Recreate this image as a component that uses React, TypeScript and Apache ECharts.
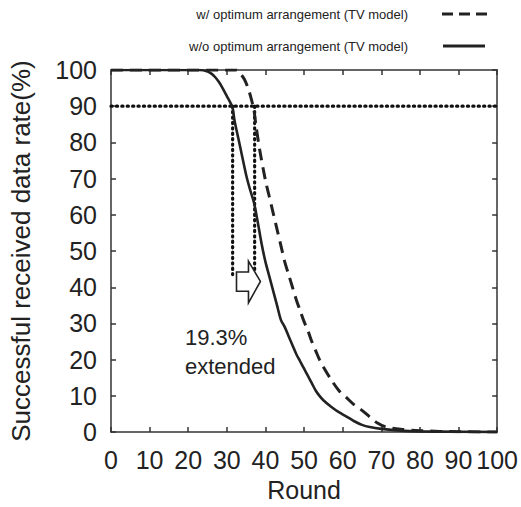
import React, { useEffect, useRef } from "react";
import * as echarts from "echarts";

// Successful received data rate (%) vs. round
const roundsWithout = [0, 23, 25, 26, 27, 28, 29, 30, 31, 31.5, 32, 33, 34, 35, 36, 37, 38, 39, 40, 41, 42, 43, 44, 45, 46, 47, 48, 49, 50, 51, 52, 53, 54, 55, 57, 59, 61, 63, 65, 67, 70, 75, 80, 90, 100];
const rateWithout = [100, 100, 99.6, 99, 98, 96.6, 94.8, 92.8, 90.8, 89.5, 86, 81, 76, 71, 67, 63.5, 58, 52, 47, 43, 39, 35, 31, 29, 26.5, 24, 21.5, 19.5, 17.5, 15.5, 13.5, 11.5, 10, 8.8, 7, 5.5, 4.3, 3, 2, 1.4, 0.9, 0.4, 0.2, 0.1, 0];

const roundsWith = [0, 32.5, 33.5, 34.5, 35.5, 36.2, 37, 37.5, 38.5, 40, 41, 42, 43, 44, 45, 46, 47, 48, 49, 50, 51, 52, 53, 54, 55, 57, 59, 61, 63, 65, 67, 69, 71, 75, 80, 85, 90, 100];
const rateWith = [100, 100, 99, 97.5, 95, 92.5, 89, 85, 78, 69.5, 65, 60.5, 56, 51.5, 47, 43.5, 40, 36.5, 33.5, 30.5, 28, 25, 22.5, 20, 18, 14.5, 11.5, 9.5, 7.5, 6, 4.2, 2.5, 1.5, 0.8, 0.4, 0.2, 0.1, 0];

const seriesNames = ["w/ optimum arrangement (TV model)", "w/o optimum arrangement (TV model)"];

// annotation values
const thresholdRate = 90;
const crossWithout = 31.5;
const crossWith = 37.2;
const dropBottomWithout = 43.5;
const dropBottomWith = 43;
// arrow outline (round, rate)
const arrowRounds = [32.5, 35.6, 35.6, 38.7, 35.6, 35.6, 32.5];
const arrowRates = [44.2, 44.2, 47.2, 41.6, 35.7, 38.9, 38.9];
const annotationLines = ["19.3%", "extended"];

const xTickMin = 0, xTickMax = 100, xTickStep = 10;
const yTickMin = 0, yTickMax = 100, yTickStep = 10;

const FONT = '"Liberation Sans", Arial, Helvetica, sans-serif';
const INK = "#222";
const AXIS = "#333";

export default function App() {
  const ref = useRef<HTMLDivElement>(null);
  useEffect(() => {
    if (!ref.current) return;
    const chart = echarts.init(ref.current, null, { renderer: "svg" });
    const axisLine = { show: true, onZero: false, lineStyle: { color: AXIS, width: 1.5 } };
    const axisTick = { show: true, inside: true, length: 5, lineStyle: { color: AXIS, width: 1.5 } };
    const dotted = { color: "#111", width: 3.2, type: [1.2, 4.2] as any, cap: "round" as any };
    const arrowPts = arrowRounds.map((x, i) => [x, arrowRates[i]]);
    chart.setOption({
      animation: false,
      backgroundColor: "#fff",
      textStyle: { fontFamily: FONT },
      grid: { left: 111, right: 23, top: 70, bottom: 64, containLabel: false },
      xAxis: [
        {
          type: "value", min: xTickMin, max: xTickMax, interval: xTickStep, position: "bottom",
          axisLine, axisTick, splitLine: { show: false },
          axisLabel: { fontSize: 25, color: INK, margin: 15, fontFamily: FONT },
          name: "Round", nameLocation: "middle", nameGap: 40,
          nameTextStyle: { fontSize: 25, color: INK, fontFamily: FONT },
        },
        {
          type: "value", min: xTickMin, max: xTickMax, interval: xTickStep, position: "top",
          axisLine, axisTick, splitLine: { show: false }, axisLabel: { show: false },
        },
      ],
      yAxis: [
        {
          type: "value", min: yTickMin, max: yTickMax, interval: yTickStep, position: "left",
          axisLine, axisTick, splitLine: { show: false },
          axisLabel: { fontSize: 25, color: INK, margin: 14, fontFamily: FONT },
          name: "Successful received data rate(%)", nameLocation: "middle", nameGap: 77,
          nameTextStyle: { fontSize: 26, color: INK, fontFamily: FONT },
        },
        {
          type: "value", min: yTickMin, max: yTickMax, interval: yTickStep, position: "right",
          axisLine, axisTick, splitLine: { show: false }, axisLabel: { show: false },
        },
      ],
      series: [
        {
          name: "threshold", type: "line", symbol: "none", silent: true, z: 1,
          data: [[xTickMin, thresholdRate], [xTickMax, thresholdRate]],
          lineStyle: dotted,
        },
        {
          name: "drop-wo", type: "line", symbol: "none", silent: true, z: 1,
          data: [[crossWithout, thresholdRate], [crossWithout, dropBottomWithout]],
          lineStyle: dotted,
        },
        {
          name: "drop-w", type: "line", symbol: "none", silent: true, z: 1,
          data: [[crossWith, thresholdRate], [crossWith, dropBottomWith]],
          lineStyle: dotted,
        },
        {
          name: seriesNames[1], type: "line", symbol: "none", smooth: 0.3, z: 3,
          data: roundsWithout.map((x, i) => [x, rateWithout[i]]),
          lineStyle: { color: INK, width: 2.6 },
        },
        {
          name: seriesNames[0], type: "line", symbol: "none", smooth: 0.3, z: 3,
          data: roundsWith.map((x, i) => [x, rateWith[i]]),
          lineStyle: { color: INK, width: 3, type: [12, 7] as any },
        },
        {
          name: "arrow", type: "custom", silent: true, z: 4,
          data: [0],
          renderItem: (_params: any, api: any) => ({
            type: "polygon",
            shape: { points: arrowPts.map((p) => api.coord(p)) },
            style: { fill: "#fff", stroke: INK, lineWidth: 1.6 },
          }),
        },
      ],
      graphic: [
        {
          type: "text", x: 408, y: 14,
          style: { text: seriesNames[0], fill: INK, font: `13px ${FONT}`, align: "right", verticalAlign: "middle", textAlign: "right", textVerticalAlign: "middle" },
        },
        {
          type: "text", x: 408, y: 46,
          style: { text: seriesNames[1], fill: INK, font: `13px ${FONT}`, align: "right", verticalAlign: "middle", textAlign: "right", textVerticalAlign: "middle" },
        },
        {
          type: "line", shape: { x1: 442, y1: 14, x2: 488, y2: 14 },
          style: { stroke: INK, lineWidth: 3, lineDash: [11, 6] },
        },
        {
          type: "line", shape: { x1: 443, y1: 46, x2: 485, y2: 46 },
          style: { stroke: INK, lineWidth: 3 },
        },
        {
          type: "text", x: 185, y: 337,
          style: { text: annotationLines[0], fill: INK, font: `22px ${FONT}`, align: "left", verticalAlign: "middle", textAlign: "left", textVerticalAlign: "middle" },
        },
        {
          type: "text", x: 185, y: 366,
          style: { text: annotationLines[1], fill: INK, font: `22px ${FONT}`, align: "left", verticalAlign: "middle", textAlign: "left", textVerticalAlign: "middle" },
        },
      ],
    });
    return () => chart.dispose();
  }, []);
  return <div ref={ref} style={{ width: 521, height: 507, position: "absolute", left: 0, top: 0 }} />;
}
